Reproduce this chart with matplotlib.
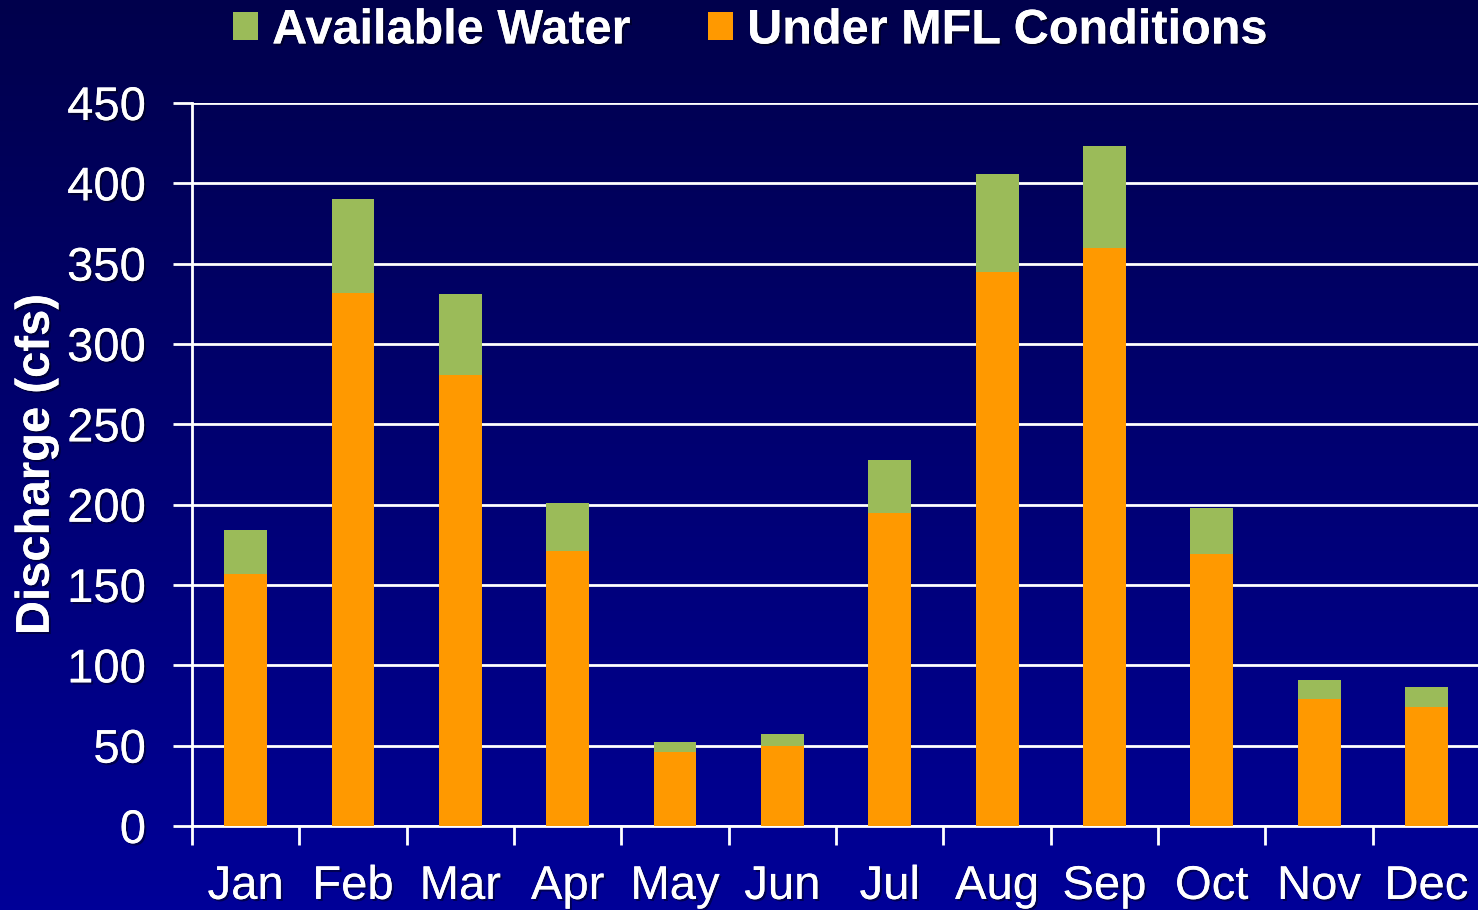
import numpy as np
import matplotlib
matplotlib.use('Agg')
import matplotlib.pyplot as plt
import matplotlib.patheffects as pe
from matplotlib.colors import LinearSegmentedColormap
from matplotlib.ticker import MultipleLocator, FixedLocator

months = ['Jan', 'Feb', 'Mar', 'Apr', 'May', 'Jun', 'Jul', 'Aug', 'Sep', 'Oct', 'Nov', 'Dec']
under_mfl = [157, 332, 281, 171, 46, 50, 195, 345, 360, 169, 79, 74]
available = [27, 58, 50, 30, 6, 7, 33, 61, 63, 29, 12, 12.5]

plt.rcParams['font.family'] = ['Liberation Sans', 'DejaVu Sans']

shadow = [pe.withSimplePatchShadow(offset=(1.5, -1.5), shadow_rgbFace='black', alpha=0.45), pe.Normal()]

fig = plt.figure(figsize=(14.78, 9.10), dpi=100)

# gradient background
bg = fig.add_axes([0, 0, 1, 1], zorder=0)
cmap = LinearSegmentedColormap.from_list('bg', ['#00004c', '#000098'])
grad = np.linspace(0, 1, 256).reshape(-1, 1)
bg.imshow(grad, aspect='auto', cmap=cmap, extent=[0, 1, 0, 1])
bg.axis('off')

ax = fig.add_axes([0.1299, 0.0923, 0.8715, 0.7945], zorder=1)
ax.set_facecolor('none')

x = np.arange(len(months))
b1 = ax.bar(x, under_mfl, width=0.4, color='#ff9900', zorder=3)
b2 = ax.bar(x, available, width=0.4, bottom=under_mfl, color='#9bbb59', zorder=3)

ax.set_xlim(-0.5, len(months) - 0.5)
ax.set_ylim(0, 450)
ax.yaxis.set_major_locator(MultipleLocator(50))
ax.yaxis.grid(True, color='white', linewidth=2, zorder=0)

ax.set_xticks(x)
ax.set_xticklabels(months)
ax.xaxis.set_minor_locator(FixedLocator(np.arange(-0.5, len(months), 1)))
ax.tick_params(axis='x', which='major', length=0, pad=28, labelsize=34, labelcolor='white')
ax.tick_params(axis='x', which='minor', length=14, width=2, color='white', direction='out')
ax.tick_params(axis='y', length=14, width=2, color='white', labelsize=34, labelcolor='white', pad=19)

for lbl in ax.get_xticklabels() + ax.get_yticklabels():
    lbl.set_path_effects(shadow)

for s in ['top', 'right']:
    ax.spines[s].set_visible(False)
for s in ['left', 'bottom']:
    ax.spines[s].set_color('white')
    ax.spines[s].set_linewidth(2)

yl = ax.set_ylabel('Discharge (cfs)', fontsize=34, fontweight='bold', color='white', labelpad=6)
yl.set_path_effects(shadow)

leg = fig.legend([b2, b1], ['Available Water', 'Under MFL Conditions'], loc='center',
                 bbox_to_anchor=(0.5075, 0.966), ncol=2, frameon=False,
                 prop={'size': 35, 'weight': 'bold'}, handlelength=0.5, handleheight=0.5,
                 handletextpad=0.3, columnspacing=1.6)
for t in leg.get_texts():
    t.set_color('white')
    t.set_path_effects(shadow)

fig.savefig('out.png', dpi=100)
